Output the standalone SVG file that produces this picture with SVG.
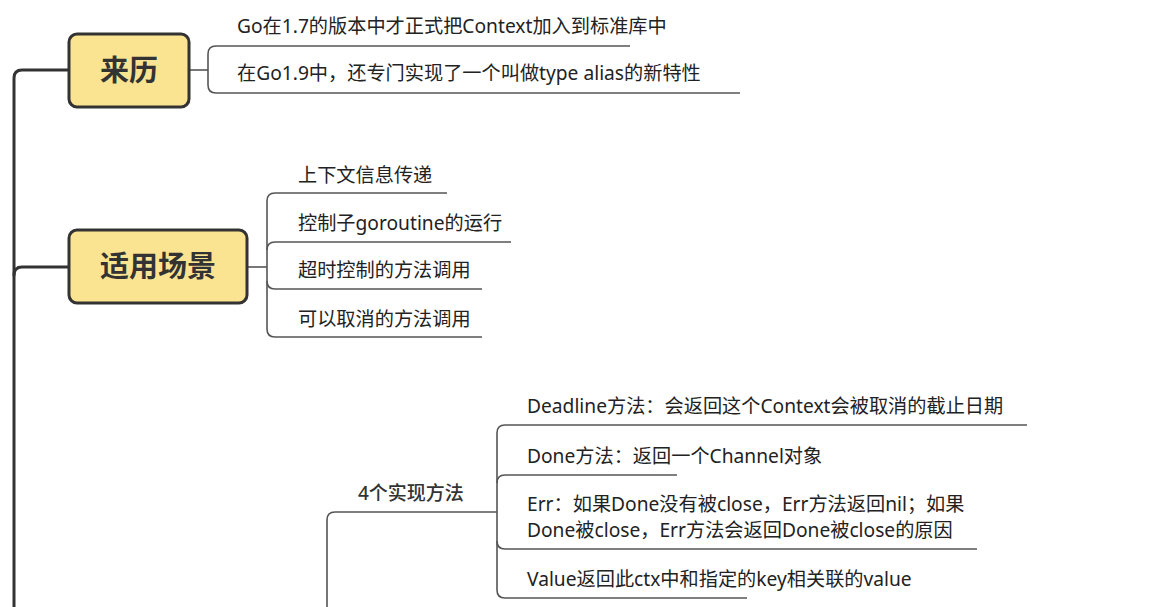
<svg xmlns="http://www.w3.org/2000/svg" width="1163" height="607" viewBox="0 0 1163 607">
<style>
.bg{fill:#ffffff}
.trunk{fill:none;stroke:#333333;stroke-width:3;stroke-linecap:round}
.br{fill:none;stroke:#555555;stroke-width:1.6}
.topic{fill:#FBE491;stroke:#333333;stroke-width:3}
.tt{font-family:"Noto Sans CJK SC","Noto Sans",sans-serif;font-size:29px;font-weight:bold;fill:#333333;text-anchor:middle}
.t{font-family:"Noto Sans","Noto Sans CJK SC",sans-serif;font-size:19.2px;fill:#222222}
.tb{font-family:"Noto Sans","Noto Sans CJK SC",sans-serif;font-size:19px;fill:#333333;font-weight:500}
</style>
<rect class="bg" x="0" y="0" width="1163" height="607"/>
<g id="connectors">
<path class="trunk" d="M14 620 V78 Q14 70 22 70 H69"/>
<path class="trunk" d="M14 275 Q14 267 22 267 H69"/>
<path class="br" d="M189 70 H208"/>
<path class="br" d="M630 46 H216 Q208 46 208 54 V85 Q208 93 216 93 H740"/>
<path class="br" d="M247 267 H267"/>
<path class="br" d="M447 193 H275 Q267 193 267 201 V329 Q267 337 275 337 H482"/>
<path class="br" d="M267 250 Q267 242 275 242 H511"/>
<path class="br" d="M267 281 Q267 289 275 289 H482"/>
<path class="br" d="M327 620 V520 Q327 512 335 512 H497"/>
<path class="br" d="M1027 425 H505 Q497 425 497 433 V590 Q497 598 505 598 H747"/>
<path class="br" d="M497 483 Q497 475 505 475 H677"/>
<path class="br" d="M497 541 Q497 549 505 549 H977"/>
</g>
<g id="node-laili">
<rect class="topic" x="69" y="34" width="120" height="73" rx="8"/>
<text class="tt" x="129" y="81">来历</text>
</g>
<g id="node-laili-1"><text class="t" x="237" y="33">Go在1.7的版本中才正式把Context加入到标准库中</text></g>
<g id="node-laili-2"><text class="t" x="237" y="80">在Go1.9中，还专门实现了一个叫做type alias的新特性</text></g>
<g id="node-changjing">
<rect class="topic" x="69" y="230" width="178" height="73" rx="8"/>
<text class="tt" x="158" y="277">适用场景</text>
</g>
<g id="node-cj-1"><text class="t" x="298" y="182">上下文信息传递</text></g>
<g id="node-cj-2"><text class="t" x="298" y="230">控制子goroutine的运行</text></g>
<g id="node-cj-3"><text class="t" x="298" y="277">超时控制的方法调用</text></g>
<g id="node-cj-4"><text class="t" x="298" y="326">可以取消的方法调用</text></g>
<g id="node-methods"><text class="tb" x="358" y="500">4个实现方法</text></g>
<g id="node-m-1"><text class="t" x="527" y="413">Deadline方法：会返回这个Context会被取消的截止日期</text></g>
<g id="node-m-2"><text class="t" x="527" y="463">Done方法：返回一个Channel对象</text></g>
<g id="node-m-3"><text class="t" x="527" y="511">Err：如果Done没有被close，Err方法返回nil；如果</text><text class="t" x="527" y="537">Done被close，Err方法会返回Done被close的原因</text></g>
<g id="node-m-4"><text class="t" x="527" y="586">Value返回此ctx中和指定的key相关联的value</text></g>
</svg>
